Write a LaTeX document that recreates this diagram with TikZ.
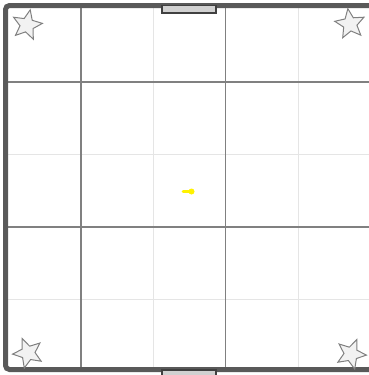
\documentclass[tikz,border=0pt]{standalone}
\usetikzlibrary{shapes.geometric}
\tikzset{
    wall/.style={line width=5pt, color=black!65},
    major/.style={line width=1.4pt, color=black!50},
    minor/.style={line width=1.8pt, color=black!10},
    door/.style={draw=black!75, fill=black!18, line width=1.2pt},
    corner/.style={star, star points=5, star point ratio=2.2, minimum size=31pt,
        inner sep=0pt, draw=black!50, fill=black!5, line width=1pt},
}
\begin{document}
\begin{tikzpicture}[x=1pt, y=-1pt]
    \useasboundingbox (0,0) rectangle (369,375);
    \begin{scope}
    \clip (0,0) rectangle (369,375);
    \foreach \p in {153.5, 298.5}{
        \draw[minor] (\p,6) -- (\p,369);
    }
    \foreach \p in {154.5, 299.5}{
        \draw[minor] (6,\p) -- (372,\p);
    }
    \draw[major] (81,6) -- (81,369);
    \draw[major] (225.5,6) -- (225.5,369);
    \draw[major] (6,82) -- (372,82);
    \draw[major] (6,227) -- (372,227);
    \draw[wall, rounded corners=4pt] (5.5,5.5) rectangle (373,369.5);
    \draw[door] (162,5.5) rectangle (216,13);
    \draw[door] (162,370) rectangle (216,378);
    \end{scope}
    \node[corner, rotate=-12] (nw) at (27,25) {};
    \node[corner, rotate=8] (ne) at (350,24) {};
    \node[corner, rotate=22] (sw) at (28,353) {};
    \node[corner, rotate=-22] (se) at (351,354) {};
    \draw[yellow, line width=2.6pt, line cap=round] (183,191.5) -- (190,191.5);
    \fill[yellow] (191.5,191.5) circle (3pt);
\end{tikzpicture}
\end{document}
